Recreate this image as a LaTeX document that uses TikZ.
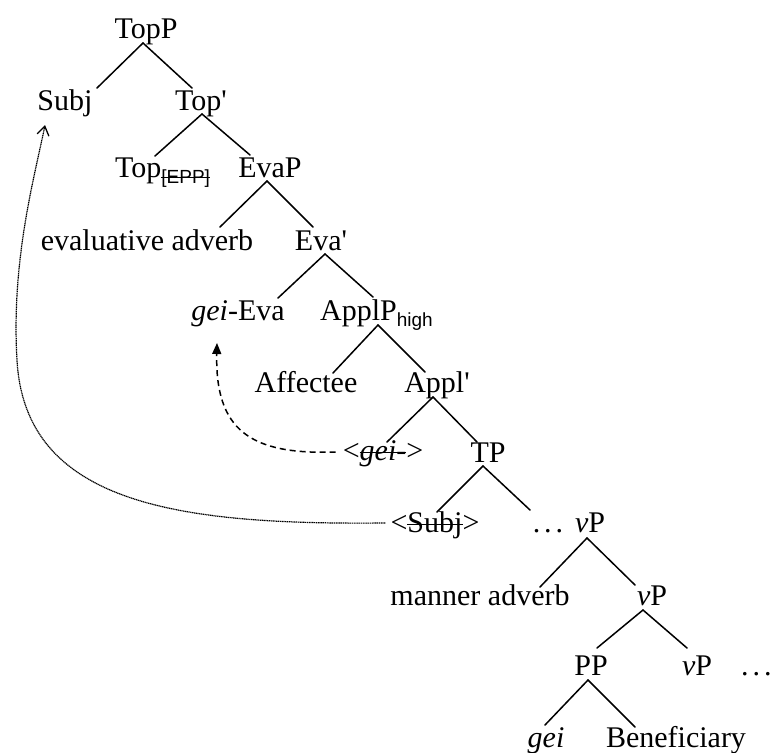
\documentclass[tikz,border=0pt]{standalone}
\usepackage{fontspec}
\setmainfont{Liberation Serif}
\newfontfamily\subfont{Liberation Sans}
\newfontfamily\rawfont[Ligatures=TeXOff]{Liberation Serif}
\usetikzlibrary{arrows.meta}
\newcommand{\strk}[1]{\setbox0\hbox{#1}\rlap{\rule[0.24em]{\wd0}{1.1pt}}\box0}
\newcommand{\tsub}[1]{\raisebox{-6pt}{\fontsize{19}{20}\selectfont\subfont #1}}
\newcommand{\pr}{{\rawfont\symbol{39}}}
\newcommand{\edge}[6]{\draw[br] ([shift={(#2,#3)}]#1) -- ([shift={(#5,#6)}]#4);}
\begin{document}
\begin{tikzpicture}[x=1pt,y=-1pt,
  lab/.style={inner sep=0pt, anchor=base, font=\fontsize{30}{36}\selectfont},
  labw/.style={lab, anchor=base west},
  br/.style={line width=1.5pt, line cap=round}]
\useasboundingbox (0,0) rectangle (776,752);
% nodes
\node[lab] (topp) at (146,38) {TopP};
\node[lab] (subj) at (65,110) {Subj};
\node[lab] (topbar) at (201,110) {Top\pr};
\node[labw] (topepp) at (115,177) {Top\tsub{\strk{[EPP]}}};
\node[lab] (evap) at (270,177) {EvaP};
\node[lab] (evadv) at (147,250) {evaluative adverb};
\node[lab] (evabar) at (321,250) {Eva\pr};
\node[lab] (geieva) at (238,320) {\textit{gei}-Eva};
\node[labw] (applp) at (320,320) {ApplP\tsub{high}};
\node[lab] (affectee) at (306,392) {Affectee};
\node[lab] (applbar) at (437,392) {Appl\pr};
\node[lab] (geit) at (383,460) {<\strk{\textit{gei}-}>};
\node[lab] (tp) at (488,462) {TP};
\node[lab] (subjt) at (435,532) {<\strk{Subj}>};
\node[lab] (dotsa) at (548,532) {.\hspace{4pt}.\hspace{4pt}.};
\node[lab] (vpa) at (590,532) {\textit{v}P};
\node[lab] (madv) at (480,605) {manner adverb};
\node[lab] (vpb) at (652,605) {\textit{v}P};
\node[lab] (pp) at (591,675) {PP};
\node[lab] (vpc) at (697,675) {\textit{v}P};
\node[labw] (dotsb) at (741,675) {.\hspace{4pt}.\hspace{4pt}.};
\node[lab] (gei) at (546,747) {\textit{gei}};
\node[lab] (benef) at (676,747) {Beneficiary};
% branches
\edge{topp.base}{-3}{5}{subj.base}{32}{-22}
\edge{topp.base}{-3}{5}{topbar.base}{-9}{-22}
\edge{topbar.base}{1}{4}{topepp.base west}{40}{-21}
\edge{topbar.base}{1}{4}{evap.base}{-20}{-22}
\edge{evap.base}{-3}{4}{evadv.base}{73}{-23}
\edge{evap.base}{-3}{4}{evabar.base}{-8}{-23}
\edge{evabar.base}{4}{4}{geieva.base}{40}{-22}
\edge{evabar.base}{4}{4}{applp.base west}{53}{-23}
\edge{applp.base west}{58}{5}{affectee.base}{27}{-19}
\edge{applp.base west}{58}{5}{applbar.base}{-12}{-20}
\edge{applbar.base}{-4}{5}{geit.base}{4}{-18}
\edge{applbar.base}{-4}{5}{tp.base}{-11}{-20}
\edge{tp.base}{-5}{4}{subjt.base}{2}{-20}
\edge{tp.base}{-5}{4}{dotsa.base}{-18}{-22}
\edge{vpa.base}{-3}{6}{madv.base}{60}{-18}
\edge{vpa.base}{-3}{6}{vpb.base}{-17}{-20}
\edge{vpb.base}{-9}{5}{pp.base}{6}{-27}
\edge{vpb.base}{-9}{5}{vpc.base}{-10}{-27}
\edge{pp.base}{-3}{5}{gei.base}{-1}{-22}
\edge{pp.base}{-3}{5}{benef.base}{-41}{-20}
% movement arrows
\draw[line width=1.2pt, dash pattern=on 1.2pt off 0.6pt, -{Straight Barb[length=9pt,width=12pt,line width=1.3pt]}]
  ([shift={(-5,-9)}]subjt.base west) .. controls (180,525) and (25,505) .. (17,360)
  .. controls (11,260) and (35,175) .. ([shift={(-20,15)}]subj.base);
\draw[line width=1.5pt, dash pattern=on 6pt off 4pt, -{Triangle[length=11pt,width=9pt]}]
  ([shift={(-7,-8)}]geit.base west) .. controls (250,455) and (215,430) .. ([shift={(-21,23)}]geieva.base);
\end{tikzpicture}
\end{document}
